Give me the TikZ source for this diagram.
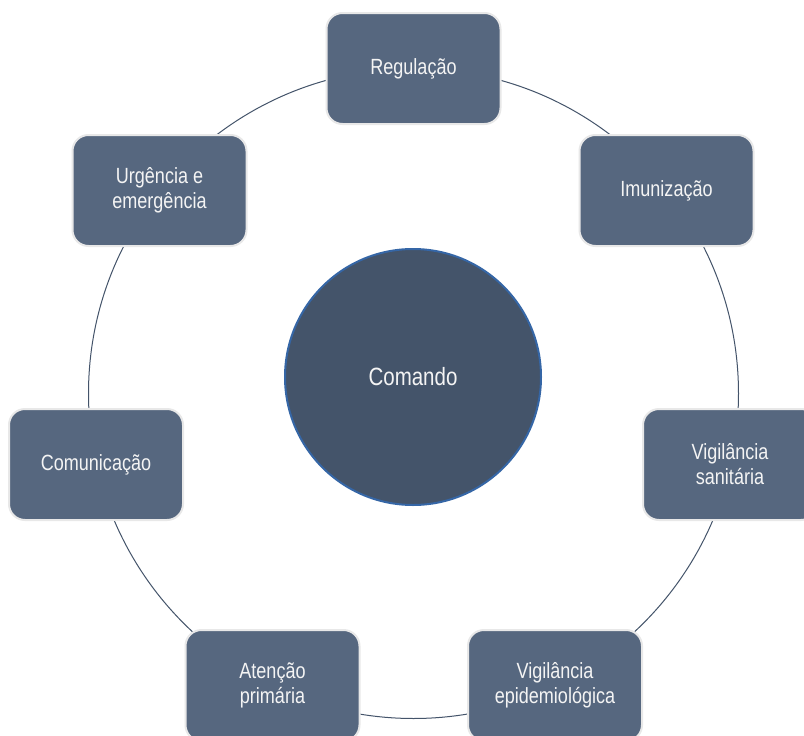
\documentclass[tikz,border=0pt]{standalone}
\usepackage{fontspec}
\setmainfont{Liberation Sans}[FakeStretch=0.82]
\definecolor{boxfill}{HTML}{56677F}
\definecolor{boxline}{HTML}{E8E8E8}
\definecolor{ringline}{HTML}{44546A}
\definecolor{hubfill}{HTML}{44546A}
\definecolor{hubline}{HTML}{3566A6}
\definecolor{txt}{HTML}{F4F4F4}
\tikzset{
  ringbox/.style={draw=boxline, line width=2pt, fill=boxfill, rounded corners=16pt,
    minimum width=174pt, minimum height=111pt, text=txt, align=center,
    font=\fontsize{22pt}{25pt}\selectfont, inner sep=0pt},
  hub/.style={circle, draw=hubline, line width=2pt, fill=hubfill, minimum size=256pt,
    text=txt, font=\fontsize{25pt}{28pt}\selectfont, inner sep=0pt},
  ring/.style={draw=ringline, line width=1pt}
}
\begin{document}
\begin{tikzpicture}[x=1pt,y=-1pt]
\useasboundingbox (0,0) rectangle (804,736);
\clip (0,0) rectangle (804,736);
\fill[white] (0,0) rectangle (804,736);
\coordinate (c) at (413.5,393.5);
\draw[ring] (c) circle[radius=325pt];
\node[hub] (hub) at (413,377) {Comando};
\node[ringbox] (reg) at (413.5,68.5) {Regulação};
\node[ringbox] (imu) at (666.5,190.5) {Imunização};
\node[ringbox] (vsa) at (730,464.5) {Vigilância\\sanitária};
\node[ringbox] (vep) at (555,685.5) {Vigilância\\epidemiológica};
\node[ringbox] (ate) at (272.5,685.5) {Atenção\\primária};
\node[ringbox] (com) at (96,464.5) {Comunicação};
\node[ringbox] (urg) at (159.5,190.5) {Urgência e\\emergência};
\end{tikzpicture}
\end{document}
